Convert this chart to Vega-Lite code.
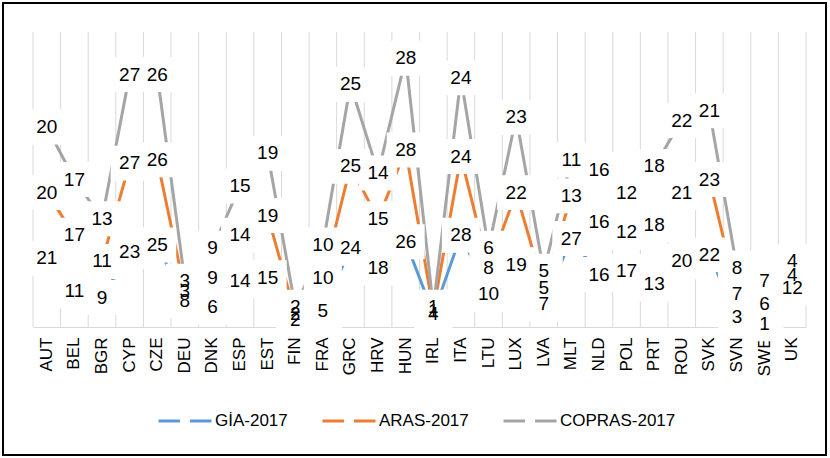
{
  "$schema": "https://vega.github.io/schema/vega-lite/v6.json",
  "width": 823,
  "height": 452,
  "autosize": "none",
  "padding": {"left": 3, "top": 3, "right": 4, "bottom": 3},
  "background": "white",
  "config": {"view": {"stroke": "#000000", "strokeWidth": 2}, "font": "Liberation Sans"},
  "data": {"values": [
    {"c":"AUT","s":"GİA-2017","k":1,"v":21},{"c":"AUT","s":"ARAS-2017","k":2,"v":20},{"c":"AUT","s":"COPRAS-2017","k":3,"v":20},
    {"c":"BEL","s":"GİA-2017","k":1,"v":11},{"c":"BEL","s":"ARAS-2017","k":2,"v":17},{"c":"BEL","s":"COPRAS-2017","k":3,"v":17},
    {"c":"BGR","s":"GİA-2017","k":1,"v":9},{"c":"BGR","s":"ARAS-2017","k":2,"v":11},{"c":"BGR","s":"COPRAS-2017","k":3,"v":13},
    {"c":"CYP","s":"GİA-2017","k":1,"v":23},{"c":"CYP","s":"ARAS-2017","k":2,"v":27},{"c":"CYP","s":"COPRAS-2017","k":3,"v":27},
    {"c":"CZE","s":"GİA-2017","k":1,"v":25},{"c":"CZE","s":"ARAS-2017","k":2,"v":26},{"c":"CZE","s":"COPRAS-2017","k":3,"v":26},
    {"c":"DEU","s":"GİA-2017","k":1,"v":8},{"c":"DEU","s":"ARAS-2017","k":2,"v":3},{"c":"DEU","s":"COPRAS-2017","k":3,"v":3},
    {"c":"DNK","s":"GİA-2017","k":1,"v":6},{"c":"DNK","s":"ARAS-2017","k":2,"v":9},{"c":"DNK","s":"COPRAS-2017","k":3,"v":9},
    {"c":"ESP","s":"GİA-2017","k":1,"v":14},{"c":"ESP","s":"ARAS-2017","k":2,"v":14},{"c":"ESP","s":"COPRAS-2017","k":3,"v":15},
    {"c":"EST","s":"GİA-2017","k":1,"v":15},{"c":"EST","s":"ARAS-2017","k":2,"v":19},{"c":"EST","s":"COPRAS-2017","k":3,"v":19},
    {"c":"FIN","s":"GİA-2017","k":1,"v":2},{"c":"FIN","s":"ARAS-2017","k":2,"v":2},{"c":"FIN","s":"COPRAS-2017","k":3,"v":2},
    {"c":"FRA","s":"GİA-2017","k":1,"v":5},{"c":"FRA","s":"ARAS-2017","k":2,"v":10},{"c":"FRA","s":"COPRAS-2017","k":3,"v":10},
    {"c":"GRC","s":"GİA-2017","k":1,"v":24},{"c":"GRC","s":"ARAS-2017","k":2,"v":25},{"c":"GRC","s":"COPRAS-2017","k":3,"v":25},
    {"c":"HRV","s":"GİA-2017","k":1,"v":18},{"c":"HRV","s":"ARAS-2017","k":2,"v":15},{"c":"HRV","s":"COPRAS-2017","k":3,"v":14},
    {"c":"HUN","s":"GİA-2017","k":1,"v":26},{"c":"HUN","s":"ARAS-2017","k":2,"v":28},{"c":"HUN","s":"COPRAS-2017","k":3,"v":28},
    {"c":"IRL","s":"GİA-2017","k":1,"v":4},{"c":"IRL","s":"ARAS-2017","k":2,"v":1},{"c":"IRL","s":"COPRAS-2017","k":3,"v":1},
    {"c":"ITA","s":"GİA-2017","k":1,"v":28},{"c":"ITA","s":"ARAS-2017","k":2,"v":24},{"c":"ITA","s":"COPRAS-2017","k":3,"v":24},
    {"c":"LTU","s":"GİA-2017","k":1,"v":10},{"c":"LTU","s":"ARAS-2017","k":2,"v":8},{"c":"LTU","s":"COPRAS-2017","k":3,"v":6},
    {"c":"LUX","s":"GİA-2017","k":1,"v":19},{"c":"LUX","s":"ARAS-2017","k":2,"v":22},{"c":"LUX","s":"COPRAS-2017","k":3,"v":23},
    {"c":"LVA","s":"GİA-2017","k":1,"v":7},{"c":"LVA","s":"ARAS-2017","k":2,"v":5},{"c":"LVA","s":"COPRAS-2017","k":3,"v":5},
    {"c":"MLT","s":"GİA-2017","k":1,"v":27},{"c":"MLT","s":"ARAS-2017","k":2,"v":13},{"c":"MLT","s":"COPRAS-2017","k":3,"v":11},
    {"c":"NLD","s":"GİA-2017","k":1,"v":16},{"c":"NLD","s":"ARAS-2017","k":2,"v":16},{"c":"NLD","s":"COPRAS-2017","k":3,"v":16},
    {"c":"POL","s":"GİA-2017","k":1,"v":17},{"c":"POL","s":"ARAS-2017","k":2,"v":12},{"c":"POL","s":"COPRAS-2017","k":3,"v":12},
    {"c":"PRT","s":"GİA-2017","k":1,"v":13},{"c":"PRT","s":"ARAS-2017","k":2,"v":18},{"c":"PRT","s":"COPRAS-2017","k":3,"v":18},
    {"c":"ROU","s":"GİA-2017","k":1,"v":20},{"c":"ROU","s":"ARAS-2017","k":2,"v":21},{"c":"ROU","s":"COPRAS-2017","k":3,"v":22},
    {"c":"SVK","s":"GİA-2017","k":1,"v":22},{"c":"SVK","s":"ARAS-2017","k":2,"v":23},{"c":"SVK","s":"COPRAS-2017","k":3,"v":21},
    {"c":"SVN","s":"GİA-2017","k":1,"v":3},{"c":"SVN","s":"ARAS-2017","k":2,"v":7},{"c":"SVN","s":"COPRAS-2017","k":3,"v":8},
    {"c":"SWE","s":"GİA-2017","k":1,"v":1},{"c":"SWE","s":"ARAS-2017","k":2,"v":6},{"c":"SWE","s":"COPRAS-2017","k":3,"v":7},
    {"c":"UK","s":"GİA-2017","k":1,"v":12},{"c":"UK","s":"ARAS-2017","k":2,"v":4},{"c":"UK","s":"COPRAS-2017","k":3,"v":4}
  ]},
  "transform": [
    {"stack": "v", "groupby": ["c"], "sort": [{"field": "k", "order": "ascending"}], "as": ["v0", "v1"]}
  ],
  "layer": [
    {
      "transform": [{"filter": "datum.k == 1"}],
      "mark": {"type": "rule", "color": "#D9D9D9", "strokeWidth": 1},
      "encoding": {
        "x": {"field": "c", "type": "nominal", "sort": null, "bandPosition": 0,
              "scale": {"type": "band", "range": [30, 803], "paddingInner": 0, "paddingOuter": 0},
              "axis": {"orient": "bottom", "offset": -128, "title": null, "ticks": false, "domain": true,
                       "domainColor": "#D9D9D9", "domainWidth": 1, "labelAngle": -90, "labelFontSize": 17,
                       "labelFont": "Liberation Sans", "labelColor": "#000000", "labelPadding": 10, "grid": false,
                       "zindex": 0}},
        "y": {"datum": 0, "type": "quantitative", "axis": null,
              "scale": {"domain": [0, 90], "range": [324, 29], "nice": false, "zero": false}},
        "y2": {"datum": 90}
      }
    },
    {
      "transform": [{"filter": "datum.k == 1 && datum.c == 'UK'"}],
      "mark": {"type": "rule", "color": "#D9D9D9", "strokeWidth": 1},
      "encoding": {
        "x": {"field": "c", "type": "nominal", "sort": null, "bandPosition": 1},
        "y": {"datum": 0, "type": "quantitative"},
        "y2": {"datum": 90}
      }
    },
    {
      "mark": {"type": "line", "strokeWidth": 3},
      "encoding": {
        "x": {"field": "c", "type": "nominal", "sort": null, "bandPosition": 0.5},
        "y": {"field": "v1", "type": "quantitative"},
        "color": {"field": "s", "type": "nominal",
                  "scale": {"domain": ["GİA-2017", "ARAS-2017", "COPRAS-2017"], "range": ["#5B9BD5", "#ED7D31", "#A5A5A5"]},
                  "legend": {"orient": "none", "legendX": 154, "legendY": 390, "direction": "horizontal", "columns": 3,
                             "title": null, "symbolType": "M-1,0H-0.19M0.19,0H1", "symbolSize": 2809,
                             "symbolStrokeWidth": 3, "labelFontSize": 17, "labelFont": "Liberation Sans",
                             "labelColor": "#000000", "labelOffset": 2, "columnPadding": 28}}
      }
    },
    {
      "mark": {"type": "point", "shape": "M-1,-0.92H1V0.92H-1Z", "filled": true, "color": "white", "size": 1444, "opacity": 1, "strokeWidth": 0},
      "encoding": {
        "x": {"field": "c", "type": "nominal", "sort": null, "bandPosition": 0.5},
        "y": {"field": "v1", "type": "quantitative"}
      }
    },
    {
      "mark": {"type": "text", "fontSize": 19, "font": "Liberation Sans", "color": "#000000", "align": "center", "baseline": "middle"},
      "encoding": {
        "x": {"field": "c", "type": "nominal", "sort": null, "bandPosition": 0.5},
        "y": {"field": "v1", "type": "quantitative"},
        "text": {"field": "v", "type": "quantitative"}
      }
    }
  ]
}
